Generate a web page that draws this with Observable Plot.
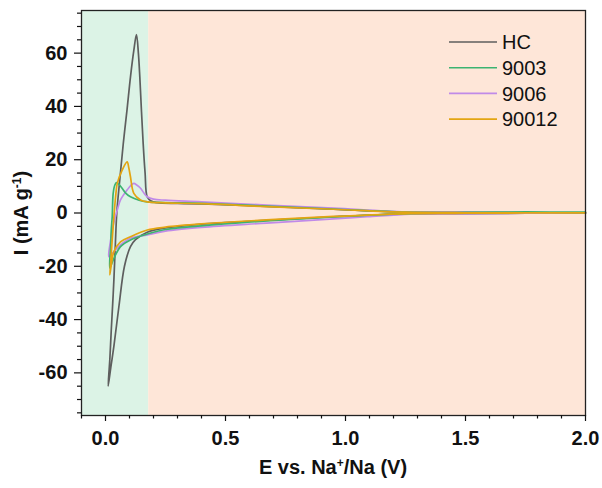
<!DOCTYPE html>
<html>
<head>
<meta charset="utf-8">
<script src="https://cdn.jsdelivr.net/npm/d3@7"></script>
<script src="https://cdn.jsdelivr.net/npm/@observablehq/plot@0.6"></script>
<style>
  html, body { margin: 0; padding: 0; background: #fff; }
  #chart { width: 602px; height: 488px; position: relative; }
</style>
</head>
<body>
<div id="chart"></div>
<script>
// ---- data ----
const seriesNames = ["HC", "9003", "9006", "90012"];
const seriesColors = ["#5e5e5e", "#3cb371", "#c08ae8", "#e3a512"];

// each series: cathodic scan (2.0 V -> tip) then anodic scan (tip -> 2.0 V)
const hcE = [2.0, 1.75, 1.5, 1.25, 0.95, 0.67, 0.4, 0.25, 0.174, 0.125, 0.104, 0.079, 0.056, 0.035, 0.022, 0.011,
             0.018, 0.024, 0.030, 0.035, 0.041, 0.047, 0.060, 0.074, 0.090, 0.104, 0.118, 0.129, 0.137, 0.143, 0.150, 0.157, 0.165, 0.174, 0.19, 0.215, 0.3, 0.4, 0.67, 0.95, 1.25, 1.5, 1.75, 2.0];
const hcI = [0.0, -0.1, -0.2, -0.3, -1.4, -2.8, -4.2, -5.6, -7.2, -10, -12.6, -20, -35, -50, -58, -65,
             -55, -44, -34, -25, -12, 0, 13, 26, 39, 51, 61, 67, 60, 51, 38, 26, 15, 6, 4.5, 3.9, 3.6, 3.4, 2.5, 1.4, 0.3, 0.2, 0.1, 0.1];

const s9003E = [2.0, 1.75, 1.5, 1.27, 1.1, 0.95, 0.67, 0.4, 0.25, 0.174, 0.104, 0.0625, 0.035, 0.018,
                0.022, 0.024, 0.028, 0.032, 0.039, 0.046, 0.055, 0.069, 0.085, 0.104, 0.14, 0.174, 0.25, 0.4, 0.67, 0.95, 1.25, 1.5, 1.75, 2.0];
const s9003I = [0.1, 0.3, 0.1, -0.2, -0.8, -1.5, -3.0, -4.8, -6.2, -7.9, -10.1, -12.6, -17, -20.6,
                -12, -6.4, -1.4, 7.4, 10.5, 11.4, 10.8, 9.3, 7.4, 6.1, 4.8, 4.2, 3.9, 3.6, 2.6, 1.5, 0.3, 0.2, 0.4, 0.3];

const s9006E = [2.0, 1.75, 1.5, 1.27, 1.09, 0.95, 0.67, 0.4, 0.25, 0.174, 0.104, 0.0625, 0.035, 0.014,
                0.02, 0.028, 0.038, 0.049, 0.0625, 0.09, 0.105, 0.118, 0.13, 0.146, 0.16, 0.174, 0.2, 0.25, 0.4, 0.67, 0.95, 1.25, 1.5, 1.75, 2.0];
const s9006I = [0.0, -0.1, -0.2, -0.4, -1.4, -2.2, -3.8, -5.4, -6.8, -8.2, -9.5, -12, -14.5, -16.4,
                -11, -6.4, -2.5, 1.1, 4.9, 8.6, 10.3, 11.1, 10.5, 9.3, 7.5, 6.1, 5.2, 4.8, 4.2, 3.0, 1.8, 0.4, 0.2, 0.1, 0.1];

const s90012E = [2.0, 1.75, 1.5, 1.27, 0.95, 0.67, 0.4, 0.25, 0.174, 0.104, 0.0625, 0.035, 0.025, 0.018,
                 0.022, 0.028, 0.035, 0.042, 0.049, 0.069, 0.09, 0.097, 0.104, 0.118, 0.146, 0.174, 0.25, 0.4, 0.67, 0.95, 1.25, 1.5, 1.75, 2.0];
const s90012I = [0.0, 0.0, -0.1, -0.2, -1.3, -2.6, -4.1, -5.3, -6.4, -8.9, -10.8, -14.5, -19, -23.2,
                 -18, -10, -1.4, 6, 11.1, 16, 19.2, 17, 13.6, 7.4, 4.9, 4.2, 3.8, 3.5, 2.4, 1.4, 0.3, 0.1, 0.1, 0.1];

// shaded potential regions
const regionStart = [-0.1, 0.18];
const regionEnd = [0.18, 2.0];
const regionFill = ["#dcf3e6", "#fee6d8"];

// axes
const xDomain = [-0.1, 2.0];
const yDomain = [-76, 76];
const xMajorTicks = [0, 0.5, 1.0, 1.5, 2.0];
const xMinorTicks = [-0.1, 0.1, 0.2, 0.3, 0.4, 0.6, 0.7, 0.8, 0.9, 1.1, 1.2, 1.3, 1.4, 1.6, 1.7, 1.8, 1.9];
const yMajorTicks = [-60, -40, -20, 0, 20, 40, 60];
const yMinorTicks = [-75, -70, -65, -55, -50, -45, -35, -30, -25, -15, -10, -5, 5, 10, 15, 25, 30, 35, 45, 50, 55, 65, 70, 75];

// ---- build tables ----
const seriesE = [hcE, s9003E, s9006E, s90012E];
const seriesI = [hcI, s9003I, s9006I, s90012I];
const rows = [];
const drawOrder = [0, 2, 1, 3];
for (const k of drawOrder) {
  seriesE[k].forEach((e, i) => rows.push({series: seriesNames[k], E: e, I: seriesI[k][i], idx: i}));
}
const regions = regionStart.map((s, i) => ({x1: s, x2: regionEnd[i], fill: regionFill[i]}));

const FONT = "'Liberation Sans', Arial, sans-serif";
const W = 602, H = 488;
const plot = Plot.plot({
  width: W,
  height: H,
  marginLeft: 81,
  marginRight: 17,
  marginTop: 10,
  marginBottom: 73,
  style: {fontFamily: FONT, fontSize: "19px", fontWeight: "bold", color: "#111", background: "#fff"},
  x: {domain: xDomain},
  y: {domain: yDomain},
  color: {domain: seriesNames, range: seriesColors},
  marks: [
    Plot.rect(regions, {x1: "x1", x2: "x2", y1: yDomain[0], y2: yDomain[1], fill: "fill"}),
    Plot.line(rows, {x: "E", y: "I", z: "series", stroke: "series", strokeWidth: 1.7, curve: "catmull-rom"}),
    Plot.frame({stroke: "#222", strokeWidth: 1.3}),
    Plot.axisX({ticks: xMajorTicks, tickFormat: d3.format(".1f"), tickSize: 6, tickPadding: 9, label: null, strokeWidth: 1.2, fontSize: 20, fontWeight: "bold", fontFamily: FONT}),
    Plot.axisX({ticks: xMinorTicks, tickFormat: () => "", tickSize: 3.5, label: null, strokeWidth: 1.2}),
    Plot.axisY({ticks: yMajorTicks, tickFormat: d => String(d), tickSize: 7, tickPadding: 7, label: null, strokeWidth: 1.2, fontSize: 20, fontWeight: "bold", fontFamily: FONT}),
    Plot.axisY({ticks: yMinorTicks, tickFormat: () => "", tickSize: 4, label: null, strokeWidth: 1.2})
  ]
});

const svg = d3.select(plot);
// axis titles with superscripts
const xt = svg.append("text")
  .attr("x", 333).attr("y", 474)
  .attr("text-anchor", "middle")
  .style("font-family", FONT)
  .style("font-size", "20px").style("font-weight", "bold").attr("fill", "#111");
xt.append("tspan").text("E vs. Na");
xt.append("tspan").attr("baseline-shift", "super").style("font-size", "12px").text("+");
xt.append("tspan").text("/Na (V)");

const yt = svg.append("text")
  .attr("transform", "translate(28,213) rotate(-90)")
  .attr("text-anchor", "middle")
  .style("font-family", FONT)
  .style("font-size", "20px").style("font-weight", "bold").attr("fill", "#111");
yt.append("tspan").text("I (mA g");
yt.append("tspan").attr("baseline-shift", "super").style("font-size", "12px").text("-1");
yt.append("tspan").text(")");

// legend (inside plot, top right)
const lg = svg.append("g").attr("transform", "translate(449,42)");
seriesNames.forEach((name, i) => {
  const g = lg.append("g").attr("transform", `translate(0,${i * 25.7})`);
  g.append("line").attr("x1", 0).attr("x2", 48).attr("y1", 0).attr("y2", 0)
    .attr("stroke", seriesColors[i]).attr("stroke-width", 1.6);
  g.append("text").attr("x", 53).attr("y", 0).attr("dy", "0.36em")
    .attr("text-anchor", "start")
    .style("text-anchor", "start")
    .style("font-family", FONT)
    .style("font-size", "20px").style("font-weight", "normal").attr("fill", "#111")
    .text(name);
});

document.getElementById("chart").appendChild(plot);
</script>
</body>
</html>
